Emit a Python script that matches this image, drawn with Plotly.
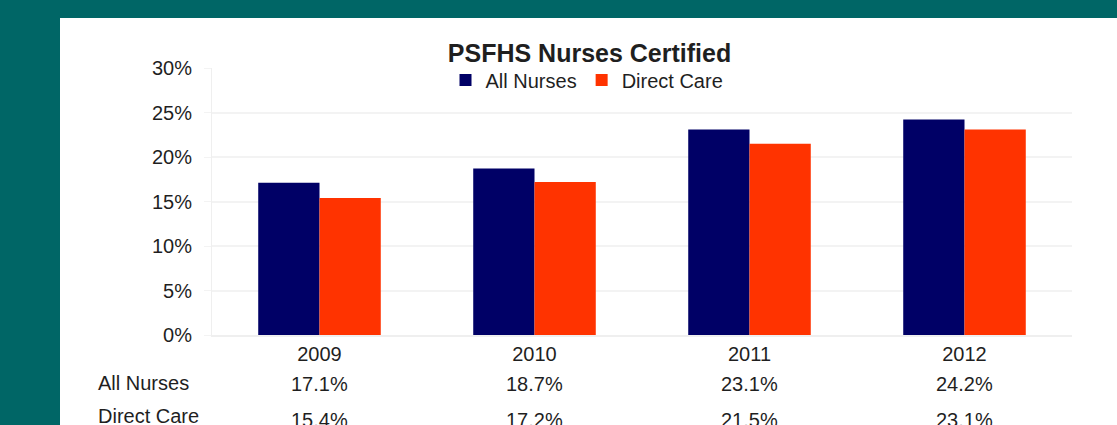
import plotly.graph_objects as go

years = ["2009", "2010", "2011", "2012"]
all_nurses = [17.1, 18.7, 23.1, 24.2]
direct_care = [15.4, 17.2, 21.5, 23.1]
series_names = ["All Nurses", "Direct Care"]
y_ticks = [0, 5, 10, 15, 20, 25, 30]
y_tick_labels = ["0%", "5%", "10%", "15%", "20%", "25%", "30%"]

W, H = 1117, 425
L, R, T, B = 212, 45, 68, 90
PW, PH = W - L - R, H - T - B

def px_x(p):
    return (p - L) / PW

def px_y(p):
    return (H - B - p) / PH

FONT = "Liberation Sans, Arial, sans-serif"
TXT = "#1f1f1f"

fig = go.Figure()
fig.add_trace(go.Bar(x=years, y=all_nurses, name=series_names[0],
                     marker=dict(color="#000066", line=dict(width=0))))
fig.add_trace(go.Bar(x=years, y=direct_care, name=series_names[1],
                     marker=dict(color="#FF3300", line=dict(width=0))))

annotations = []
label_y = [px_y(383.5), px_y(416)]
value_y = [px_y(384), px_y(419.5)]
for name, ly, vy, vals in zip(series_names, label_y, value_y, [all_nurses, direct_care]):
    annotations.append(dict(text=name, xref="paper", yref="paper", x=px_x(96), y=ly,
                            xanchor="left", yanchor="middle", showarrow=False,
                            font=dict(family=FONT, size=20, color=TXT)))
    for i, v in enumerate(vals):
        annotations.append(dict(text=f"{v:.1f}%", xref="x", yref="paper", x=i, y=vy,
                                xanchor="center", yanchor="middle", showarrow=False,
                                font=dict(family=FONT, size=20, color=TXT)))

fig.update_layout(
    width=W, height=H,
    margin=dict(l=L, r=R, t=T, b=B, pad=0, autoexpand=False),
    paper_bgcolor="#006666",
    plot_bgcolor="white",
    barmode="group", bargap=0.43, bargroupgap=0,
    font=dict(family=FONT, size=20, color=TXT),
    title=dict(text="<b>PSFHS Nurses Certified</b>", xref="container", yref="container",
               x=589.5 / W, y=1 - 53 / H, xanchor="center", yanchor="middle",
               font=dict(family=FONT, size=25, color=TXT)),
    legend=dict(orientation="h", xref="container", yref="container",
                x=587 / W, y=1 - 80 / H, xanchor="center", yanchor="middle",
                font=dict(family=FONT, size=20, color=TXT), bgcolor="rgba(0,0,0,0)",
                itemwidth=30, traceorder="normal"),
    xaxis=dict(type="category", range=[-0.5, 3.5], showgrid=False, showline=True,
               linecolor="#efefef", linewidth=2, ticks="",
               tickfont=dict(family=FONT, size=20, color=TXT), ticklabelstandoff=0),
    yaxis=dict(range=[0, 30], tickmode="array", tickvals=y_ticks, ticktext=y_tick_labels,
               showgrid=True, gridcolor="#f3f3f3", gridwidth=2, zeroline=False,
               showline=True, linecolor="#efefef", linewidth=1, ticks="outside",
               ticklen=7, tickcolor="#f3f3f3",
               tickfont=dict(family=FONT, size=20, color=TXT), ticklabelstandoff=8),
    shapes=[dict(type="rect", xref="paper", yref="paper", layer="below",
                 x0=px_x(60), x1=px_x(W + 20), y0=px_y(H + 20), y1=px_y(18),
                 fillcolor="white", line=dict(width=0))],
    annotations=annotations,
)

fig.write_html("out.html", config={"displayModeBar": False},
               post_script="document.body.style.margin='0';")
